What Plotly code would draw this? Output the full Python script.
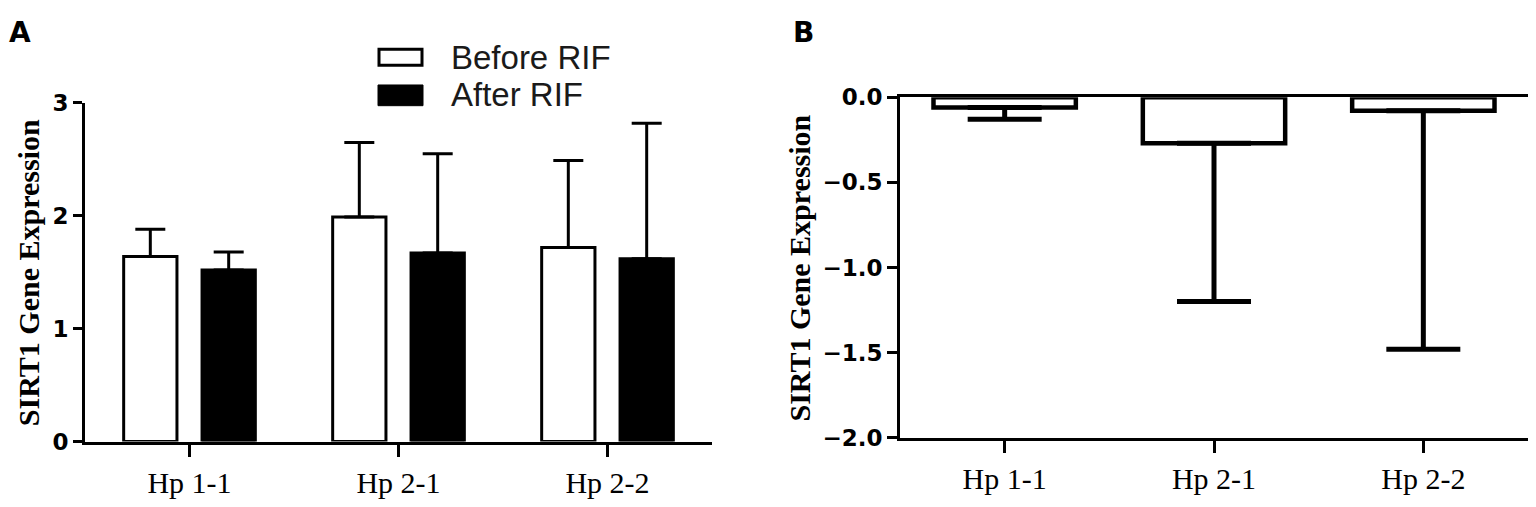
import plotly.graph_objects as go

# the page keeps its default 8px body margin, so the figure is drawn 16px smaller
# than the 1536x507 window and every pixel position is measured from the window
PAGE_MARGIN = 8
W, H = 1536 - 2 * PAGE_MARGIN, 507 - 2 * PAGE_MARGIN

categories = ["Hp 1-1", "Hp 2-1", "Hp 2-2"]

# panel A: SIRT1 expression before / after RIF (mean, upper SD)
before_rif = [1.64, 1.99, 1.72]
before_rif_err = [0.24, 0.66, 0.77]
after_rif = [1.52, 1.67, 1.62]
after_rif_err = [0.16, 0.88, 1.20]

# panel B: change in SIRT1 expression (mean, lower SD)
change = [-0.06, -0.27, -0.08]
change_err = [0.07, 0.93, 1.40]

zeros = [0] * len(categories)


def px_x(p):
    return (p - PAGE_MARGIN) / W


def px_y(p):
    return 1 - (p - PAGE_MARGIN) / H


tick_font = dict(family="DejaVu Sans", size=23, color="black", weight="bold")
cat_font = dict(family="Liberation Serif", size=30, color="black")
title_font = dict(family="Liberation Serif", size=30, color="black", weight="bold")

fig = go.Figure()

fig.add_trace(go.Bar(x=categories, y=before_rif, name="Before RIF",
                     marker=dict(color="white", line=dict(color="black", width=3)),
                     error_y=dict(type="data", symmetric=False, array=before_rif_err, arrayminus=zeros,
                                  color="black", thickness=3, width=15),
                     xaxis="x", yaxis="y"))
fig.add_trace(go.Bar(x=categories, y=after_rif, name="After RIF",
                     marker=dict(color="black", line=dict(color="black", width=3)),
                     error_y=dict(type="data", symmetric=False, array=after_rif_err, arrayminus=zeros,
                                  color="black", thickness=3, width=15),
                     xaxis="x", yaxis="y"))

fig.add_trace(go.Bar(x=categories, y=change, name="Change", width=0.68,
                     marker=dict(color="white", line=dict(color="black", width=4.5)),
                     error_y=dict(type="data", symmetric=False, array=zeros, arrayminus=change_err,
                                  color="black", thickness=5, width=37),
                     xaxis="x2", yaxis="y2"))

axis_common = dict(showline=True, linecolor="black", linewidth=3, ticks="outside",
                   tickcolor="black", tickwidth=3, showgrid=False, zeroline=False)

fig.update_layout(
    width=W, height=H,
    margin=dict(l=0, r=0, t=0, b=0),
    paper_bgcolor="white", plot_bgcolor="white",
    showlegend=False,
    barmode="group", bargap=0.25, bargroupgap=0.32,
    xaxis=dict(axis_common, domain=[px_x(85), px_x(712)], range=[-0.5, 2.5], anchor="y",
               ticklen=12, tickfont=cat_font),
    yaxis=dict(axis_common, domain=[px_y(455), px_y(95)], range=[0, 3], dtick=1, anchor="x",
               ticklen=9, tickfont=tick_font),
    xaxis2=dict(axis_common, domain=[px_x(900), 1], range=[-0.5, 2.5], anchor="y2",
                mirror=True, ticklen=12, tickfont=cat_font),
    yaxis2=dict(axis_common, domain=[px_y(451), px_y(89)], range=[-2, 0], dtick=0.5, tickformat=".1f",
                anchor="x2", ticklen=10, tickfont=tick_font),
)

# y axis titles
fig.add_annotation(text="SIRT1 Gene Expression", x=px_x(28), y=px_y(276), xref="paper", yref="paper",
                   xanchor="center", yanchor="middle", textangle=-90, showarrow=False, font=title_font)
fig.add_annotation(text="SIRT1 Gene Expression", x=px_x(800), y=px_y(270), xref="paper", yref="paper",
                   xanchor="center", yanchor="middle", textangle=-90, showarrow=False, font=title_font)

# panel letters
for letter, lx in [("A", 20), ("B", 803)]:
    fig.add_annotation(text=letter, x=px_x(lx), y=px_y(20), xref="paper", yref="paper",
                       xanchor="center", yanchor="middle", showarrow=False,
                       font=dict(family="DejaVu Sans", size=28, color="black", weight="bold"))

# legend for panel A
fig.add_shape(type="rect", xref="paper", yref="paper", x0=px_x(379), x1=px_x(422), y0=px_y(55), y1=px_y(38),
              fillcolor="white", line=dict(color="black", width=3))
fig.add_shape(type="rect", xref="paper", yref="paper", x0=px_x(378), x1=px_x(423), y0=px_y(98), y1=px_y(76),
              fillcolor="black", line=dict(color="black", width=1))
legend_font = dict(family="Liberation Sans", size=33, color="#1a1a1a")
fig.add_annotation(text="Before RIF", x=px_x(449), y=px_y(47), xref="paper", yref="paper",
                   xanchor="left", yanchor="middle", showarrow=False, font=legend_font)
fig.add_annotation(text="After RIF", x=px_x(449), y=px_y(86), xref="paper", yref="paper",
                   xanchor="left", yanchor="middle", showarrow=False, font=legend_font)

fig.write_html("out.html")
